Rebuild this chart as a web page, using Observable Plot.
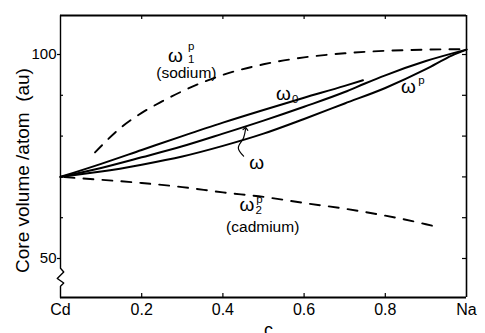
<!DOCTYPE html>
<html>
<head>
<meta charset="utf-8">
<script src="https://cdn.jsdelivr.net/npm/d3@7"></script>
<script src="https://cdn.jsdelivr.net/npm/@observablehq/plot@0.6"></script>
<style>
  html, body { margin: 0; padding: 0; background: #fff; }
</style>
</head>
<body>
<div id="chart"></div>
<script>
// ---- data (c = Na fraction, v = core volume / atom, au) ----
const omega0C = [0, 0.1, 0.2, 0.3, 0.4, 0.5, 0.6, 0.7, 0.745];
const omega0V = [70, 73.2, 76.6, 80.0, 83.3, 86.4, 89.4, 92.3, 93.7];

const omegaC = [0, 0.1, 0.2, 0.3, 0.4, 0.5, 0.6, 0.7, 0.75, 0.8, 0.9, 1.0];
const omegaV = [70, 72.2, 74.8, 77.5, 80.6, 83.8, 87.2, 90.8, 92.9, 94.9, 98.4, 101.2];

const omegaPC = [0, 0.1, 0.2, 0.3, 0.4, 0.5, 0.6, 0.7, 0.8, 0.9, 0.965, 1.0];
const omegaPV = [70, 71.3, 73.0, 75.0, 77.6, 80.6, 84.2, 88.0, 91.8, 96.4, 99.8, 101.2];

const omega1PC = [0.085, 0.15, 0.2, 0.25, 0.3, 0.4, 0.5, 0.6, 0.7, 0.8, 0.9, 1.0];
const omega1PV = [76.0, 82.2, 85.7, 88.5, 91.0, 95.0, 97.6, 99.3, 100.3, 100.9, 101.2, 101.3];

const omega2PC = [0, 0.1, 0.2, 0.3, 0.4, 0.5, 0.6, 0.7, 0.8, 0.9, 0.925];
const omega2PV = [70, 69.3, 68.5, 67.5, 66.2, 65.1, 63.6, 62.2, 60.5, 58.4, 57.8];

// pointer arrow to the ω curve
const arrowC = [0.451, 0.438, 0.451, 0.456];
const arrowV = [75.1, 77.1, 79.6, 81.8];

// left axis with its break mark
const breakC = [0, 0, 0.008, -0.008, 0.008, 0, 0];
const breakV = [109.56, 47.6, 46.7, 45.1, 44.0, 43.2, 40.44];

const xTicks = [0, 0.2, 0.4, 0.6, 0.8, 1];
const xTickLabels = ["Cd", "0.2", "0.4", "0.6", "0.8", "Na"];
const yTicks = [50, 60, 70, 80, 90, 100];
const yLabelTicks = [50, 100];
const yDomain = [40.44, 109.56];

const bigLabels = [
  {c: 0.283, v: 99.75, t: "ω"},
  {c: 0.549, v: 90.44, t: "ω"},
  {c: 0.483, v: 73.53, t: "ω"},
  {c: 0.857, v: 92.16, t: "ω"},
  {c: 0.459, v: 63.24, t: "ω"}
];
const nameLabels = [
  {c: 0.310, v: 95.5, t: "(sodium)"},
  {c: 0.498, v: 57.6, t: "(cadmium)"}
];
const smallLabels = [
  {c: 0.322, v: 102.1, t: "p"},
  {c: 0.322, v: 98.8, t: "1"},
  {c: 0.578, v: 89.1, t: "0"},
  {c: 0.889, v: 93.7, t: "p"},
  {c: 0.490, v: 64.5, t: "p"},
  {c: 0.488, v: 61.7, t: "2"}
];

const xLabel = "c";
const yLabel = "Core volume /atom\u00a0\u00a0(au)";

const toRows = (cs, vs) => cs.map((c, i) => ({c, v: vs[i]}));

const W = 485, H = 333, mL = 60, mR = 19, mT = 15, mB = 36;
const plotW = W - mL - mR, plotH = H - mT - mB;
const FONT = "'Liberation Sans', Arial, sans-serif";

const chart = Plot.plot({
  width: W,
  height: H,
  marginLeft: mL,
  marginRight: mR,
  marginTop: mT,
  marginBottom: mB,
  style: {fontFamily: FONT, background: "#fff", color: "#000", overflow: "visible", fontStretch: "condensed"},
  x: {domain: [0, 1], axis: null},
  y: {domain: yDomain, axis: null},
  marks: [
    // frame (top, right, bottom) and left axis with break
    Plot.ruleY([yDomain[1]], {stroke: "#000", strokeWidth: 1.8}),
    Plot.ruleY([yDomain[0]], {stroke: "#000", strokeWidth: 1.8}),
    Plot.ruleX([1], {stroke: "#000", strokeWidth: 1.6}),
    Plot.line(toRows(breakC, breakV), {x: "c", y: "v", stroke: "#000", strokeWidth: 1.4, curve: "linear"}),
    // inward ticks
    Plot.tickX(xTicks.slice(1, -1), {x: d => d, insetBottom: plotH - 4, stroke: "#000", strokeWidth: 1.2}),
    Plot.tickX(xTicks.slice(1, -1), {x: d => d, insetTop: plotH - 4, stroke: "#000", strokeWidth: 1.2}),
    Plot.tickY(yTicks.slice(1, -1), {y: d => d, insetRight: plotW - 3, stroke: "#000", strokeWidth: 1.2}),
    Plot.tickY(yTicks, {y: d => d, insetLeft: plotW - 4, stroke: "#000", strokeWidth: 1.2}),
    // axes labels
    Plot.axisY(yLabelTicks, {anchor: "left", tickSize: 3, tickPadding: 1, fontSize: 15, stroke: "#000", strokeWidth: 1.2, label: null}),
    Plot.axisX(xTicks, {anchor: "bottom", tickSize: 0, tickPadding: 6, fontSize: 16,
      tickFormat: d => xTickLabels[xTicks.indexOf(d)], label: null}),
    Plot.text([xLabel], {frameAnchor: "bottom", dx: 5, dy: 26, lineAnchor: "top", fontSize: 18, fill: "#000"}),
    Plot.text([yLabel], {frameAnchor: "left", textAnchor: "middle", rotate: -90, dx: -38, dy: 14, fontSize: 19, fill: "#000"}),
    // curves
    Plot.line(toRows(omega1PC, omega1PV), {x: "c", y: "v", stroke: "#000", strokeWidth: 1.9, strokeDasharray: "10,9", curve: "monotone-x"}),
    Plot.line(toRows(omega2PC, omega2PV), {x: "c", y: "v", stroke: "#000", strokeWidth: 1.9, strokeDasharray: "10,9", strokeDashoffset: -4, curve: "monotone-x"}),
    Plot.line(toRows(omega0C, omega0V), {x: "c", y: "v", stroke: "#000", strokeWidth: 2, curve: "monotone-x"}),
    Plot.line(toRows(omegaC, omegaV), {x: "c", y: "v", stroke: "#000", strokeWidth: 2, curve: "monotone-x"}),
    Plot.line(toRows(omegaPC, omegaPV), {x: "c", y: "v", stroke: "#000", strokeWidth: 2, curve: "monotone-x"}),
    Plot.line(toRows(arrowC, arrowV), {x: "c", y: "v", stroke: "#000", strokeWidth: 1.2, curve: "catmull-rom", markerEnd: "arrow"}),
    // curve labels
    Plot.text(bigLabels, {x: "c", y: "v", text: "t", fontSize: 19, fill: "#000"}),
    Plot.text(nameLabels, {x: "c", y: "v", text: "t", fontSize: 15.5, fill: "#000"}),
    Plot.text(smallLabels, {x: "c", y: "v", text: "t", fontSize: 11.5, fill: "#000"})
  ]
});
document.getElementById("chart").appendChild(chart);
</script>
</body>
</html>
